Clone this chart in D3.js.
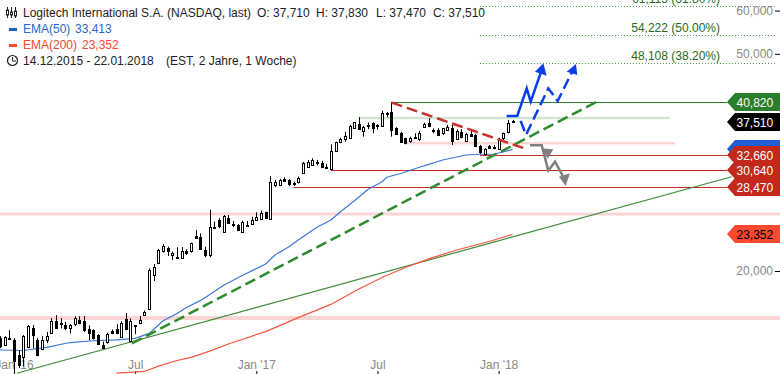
<!DOCTYPE html>
<html lang="en">
    <head>
        <meta charset="utf-8">
        <title>Logitech International S.A.</title>
        <script src="https://d3js.org/d3.v7.min.js"></script>
        <style type="text/css">
            body { margin: 0; background: #fff; }
            svg { display: block; overflow: hidden; }
            text { font-family: "Liberation Sans", Arial, sans-serif; font-size: 12px; }
            .axis path { display: none; }
            .axis line { stroke: #000; }
            .axis text { fill: #888; font-family: "Liberation Sans", Arial, sans-serif; font-size: 12px; }
        </style>
    </head>
    <body>
        <script type="text/javascript">

            //weekly candles, one entry per week starting 14.12.2015
            const opens = [15.05,14.63,15.07,14.98,14.02,13.92,14.52,15.74,14.94,14.38,14.94,15.41,16.21,16.03,15.92,15.70,15.98,16.26,16.21,15.63,15.58,15.26,14.65,14.80,15.52,15.65,15.17,16.31,14.90,15.85,16.03,16.64,17.03,19.66,20.69,21.79,22.04,21.34,21.25,21.16,21.76,21.70,23.15,23.06,21.85,21.40,24.01,24.80,23.61,25.01,24.39,24.25,23.61,24.31,24.42,24.80,24.87,25.62,24.98,28.79,28.71,29.53,29.36,29.03,29.12,30.21,31.02,31.24,31.68,31.51,31.06,30.76,33.09,34.37,34.95,35.10,36.52,37.20,36.00,36.90,37.30,37.04,36.78,38.91,39.08,36.62,35.85,35.01,34.51,35.16,35.01,36.78,37.40,36.26,36.26,35.70,36.37,36.52,34.91,36.00,34.62,35.66,35.51,33.89,32.73,33.89,33.75,33.43,34.95,35.85,37.71];
            const highs = [15.19,15.19,15.58,15.07,14.32,15.26,15.92,15.92,15.07,15.19,15.47,16.40,16.60,16.40,16.14,15.98,16.53,16.53,16.53,15.90,15.63,15.32,14.85,15.41,15.63,15.98,16.17,16.75,16.37,15.90,16.53,16.93,20.23,20.60,21.95,22.41,22.16,21.70,22.10,22.13,21.92,22.54,23.78,23.45,22.16,25.88,24.63,24.98,25.33,25.33,24.70,24.39,24.73,24.70,25.15,25.62,25.80,25.69,29.86,29.36,29.49,29.70,29.45,29.16,29.78,31.68,31.95,32.18,31.95,31.82,31.42,34.14,34.51,35.10,36.00,37.04,37.51,38.26,36.88,37.40,37.46,37.15,39.34,39.13,40.82,36.68,36.00,35.10,35.25,35.76,36.11,37.40,38.10,36.52,36.52,36.57,37.04,37.04,36.37,36.37,35.85,36.42,35.66,34.04,33.57,34.04,34.04,35.10,35.85,37.83,37.83];
            const lows = [14.44,14.57,15.02,13.00,13.27,13.38,14.44,14.42,13.96,14.32,14.75,15.37,15.70,15.70,15.58,15.37,15.85,15.98,15.47,14.94,14.98,14.63,14.38,14.73,15.32,15.32,15.12,15.58,14.81,15.32,15.98,16.55,16.96,19.18,20.60,21.61,21.31,20.95,21.16,21.16,21.40,21.61,22.96,21.85,21.19,21.19,23.88,23.95,23.61,24.39,24.05,23.78,23.61,24.18,24.39,24.73,24.83,24.98,24.91,28.47,28.67,29.28,28.60,28.60,28.95,30.12,30.98,31.20,31.24,30.89,30.93,30.63,33.05,34.29,34.51,35.10,36.47,36.26,35.25,36.37,35.76,36.31,36.78,38.26,35.25,35.66,34.43,34.14,34.37,34.91,34.62,36.68,36.68,35.76,35.36,35.51,36.26,34.04,34.76,35.01,34.51,35.25,33.80,32.77,32.63,33.47,33.43,33.33,34.51,35.76,37.47];
            const closes = [14.52,15.12,15.02,13.73,13.44,15.19,15.85,15.26,14.02,14.94,15.19,16.21,15.77,15.94,15.70,15.92,16.37,16.08,15.58,15.37,15.05,14.67,14.48,15.32,15.41,15.37,16.08,15.63,16.21,15.90,16.26,16.82,20.08,20.37,21.85,22.22,21.74,21.55,21.16,21.76,21.55,22.48,22.99,21.95,21.40,24.11,24.05,24.18,25.23,24.52,24.28,23.78,24.63,24.18,24.80,25.09,25.52,25.01,29.16,29.12,29.36,29.33,28.87,29.00,29.57,31.51,31.72,31.95,31.51,30.98,30.98,33.19,34.43,34.87,35.36,36.88,37.46,36.42,36.68,36.99,36.52,36.83,38.91,38.75,36.26,35.76,34.51,34.29,35.01,35.01,35.85,37.20,36.88,36.31,35.55,36.52,36.78,34.51,36.15,35.25,35.66,35.36,33.89,33.05,33.43,33.65,33.57,34.76,35.76,37.30,37.51];

            //moving averages: week index and value
            const ema50Weeks = [0,5,10,15,20,25,29,32,35,38,40,43,48,52,57,59,62,64,68,71,73,76,79,82,83,86,90,92,95,100,103,106,110];
            const ema50Values = [14.33,14.30,14.49,14.79,14.90,14.96,15.05,15.37,16.21,16.72,17.15,17.65,18.84,19.62,20.60,21.40,22.16,22.79,24.05,24.80,25.66,26.87,28.23,29.15,29.70,30.18,30.98,31.37,31.95,32.63,32.73,32.73,33.413];
            const ema200Weeks = [25,31,34,38,41,45,49,57,64,71,77,82,87,92,98,105,110];
            const ema200Values = [13.00,13.09,13.39,13.71,13.89,14.26,14.70,15.49,16.43,17.37,18.54,19.46,20.30,21.05,21.85,22.65,23.352];

            //x axis
            const tickWeeks = [3,29,55,81,107];
            const tickLabels = ["Jan '16","Jul","Jan '17","Jul","Jan '18"];

            //y axis, 30 and 40 sit behind the price tags
            const priceTicks = [20,50,60];

            //horizontal levels, first week of each line
            const resistance = 40.82;
            const resistanceWeek = 84;
            const supports = [32.66,30.64,28.47];
            const supportWeeks = [103,71,63];
            const fibValues = [61.115,54.222,48.108];
            const fibLabels = ["61,115 (61.80%)","54,222 (50.00%)","48,108 (38.20%)"];
            const zoneValues = [25.44,16.40];

            //drawn trend lines: [week, price]
            const greenDashed = [[28.3,14.73],[128,40.82]];
            const greenThin = [[3.6,12.99],[157,29.77]];
            const redDashed = [[84.05,40.70],[112.45,33.57]];

            //scenario arrows: [week, price]
            const blueSolid = [[108.73,38.47],[111,38.47],[113.03,43.23],[113.88,40.86],[116.24,46.70]];
            const blueSolidHead = [[114.8,46.37],[116.6,48.07],[117.3,45.60]];
            const blueDashed = [[111.74,37.67],[112.88,35.51],[117.66,43.23],[119.68,40.98],[122.96,46.70]];
            const blueDashedHead = [[121.6,46.37],[123.6,47.90],[123.88,45.73]];
            const grayPath = [[113.73,33.99],[116.24,33.99],[117.66,30.54],[119.1,31.72],[121.24,29.36]];
            const grayHeadA = [[116.24,33.57],[118.73,33.43],[117.53,32.13]];
            const grayHeadB = [[119.96,29.78],[122.3,30.20],[121.4,28.63]];

            //price tags on the right, the blue one is covered by its neighbour
            const tagValues = [40.82,37.51,33.413,32.66,30.64,28.47,23.352];
            const tagFills = ["#2a7d2a","#000000","#1f5fd0","#c4281c","#c4281c","#c4281c","#fb4a2f"];
            const tagText = ["#fff","#fff",null,"#fff","#fff","#fff","#000"];

            //consts
            const w = 780;
            const h = 374;
            const tagLeft = 727;
            const green = "#2a7d2a";
            const red = "#c8281e";
            const pink = "#fbd5d3";
            const fmt = v => d3.format(".3f")(v).replace(".", ",");

            //scales
            const xScale = d3.scaleLinear().domain([0, 110]).range([0, 512.6]);
            const yScale = d3.scaleLog().domain([20, 60]).range([271, 10.6]);
            const pointLine = d3.line().x(d => xScale(d[0])).y(d => yScale(d[1]));

            //SVG
            const svg = d3.select("body")
                    .append("svg")
                    .attr("width", w)
                    .attr("height", h);

            //pale zones behind the candles
            svg.selectAll("line.zone")
               .data(zoneValues)
               .enter()
               .append("line")
               .attr("class", "zone")
               .attr("x1", 0)
               .attr("x2", w)
               .attr("y1", d => yScale(d))
               .attr("y2", d => yScale(d))
               .attr("stroke", pink)
               .attr("stroke-width", (d, i) => i == 0 ? 3 : 4);

            //short pale zones
            svg.append("line")
               .attr("x1", xScale(77)).attr("x2", 670)
               .attr("y1", yScale(38.15)).attr("y2", yScale(38.15))
               .attr("stroke", "#d2e6d2").attr("stroke-width", 2.5);
            svg.append("line")
               .attr("x1", xScale(87)).attr("x2", 675)
               .attr("y1", yScale(34.28)).attr("y2", yScale(34.28))
               .attr("stroke", pink).attr("stroke-width", 2.5);

            //fibonacci levels
            svg.selectAll("line.fib")
               .data(fibValues)
               .enter()
               .append("line")
               .attr("class", "fib")
               .attr("x1", xScale(103))
               .attr("x2", 775)
               .attr("y1", d => Math.round(yScale(d)) + 0.5)
               .attr("y2", d => Math.round(yScale(d)) + 0.5)
               .attr("stroke", "#4a9a4a")
               .attr("stroke-dasharray", "1,2");

            svg.selectAll("text.fib")
               .data(fibLabels)
               .enter()
               .append("text")
               .attr("class", "fib")
               .attr("x", 720)
               .attr("y", (d, i) => yScale(fibValues[i]) - 3)
               .attr("text-anchor", "end")
               .attr("fill", "#1f6b1f")
               .text(d => d);

            //bottom axis, labels above the tick
            const bottomAxis = d3.axisTop()
                                 .scale(xScale)
                                 .tickValues(tickWeeks)
                                 .tickSize(3)
                                 .tickPadding(2)
                                 .tickFormat((d, i) => tickLabels[i]);

            svg.append("g")
               .attr("class", "axis")
               .attr("transform", "translate(0," + h + ")")
               .call(bottomAxis);

            //right axis, labels left of the tick
            const rightAxis = d3.axisLeft()
                                .scale(yScale)
                                .tickValues(priceTicks)
                                .tickSize(5)
                                .tickPadding(2)
                                .tickFormat(fmt);

            svg.append("g")
               .attr("class", "axis")
               .attr("transform", "translate(" + w + ",0)")
               .call(rightAxis);

            //level lines
            svg.append("line")
               .attr("x1", xScale(resistanceWeek)).attr("x2", tagLeft)
               .attr("y1", Math.round(yScale(resistance)) + 0.5).attr("y2", Math.round(yScale(resistance)) + 0.5)
               .attr("stroke", green).attr("stroke-width", 1.2);

            svg.selectAll("line.support")
               .data(supports)
               .enter()
               .append("line")
               .attr("class", "support")
               .attr("x1", (d, i) => xScale(supportWeeks[i]))
               .attr("x2", tagLeft)
               .attr("y1", d => Math.round(yScale(d)) + 0.5)
               .attr("y2", d => Math.round(yScale(d)) + 0.5)
               .attr("stroke", red)
               .attr("stroke-width", 1.2);

            //thin trend line
            svg.append("path")
               .attr("d", pointLine(greenThin))
               .attr("fill", "none").attr("stroke", "#3d8b3d").attr("stroke-width", 1.2);

            //moving averages
            svg.append("path")
               .attr("d", pointLine(ema50Weeks.map((d, i) => [d, ema50Values[i]])))
               .attr("fill", "none").attr("stroke", "#3b78d8").attr("stroke-width", 1.2);
            svg.append("path")
               .attr("d", pointLine(ema200Weeks.map((d, i) => [d, ema200Values[i]])))
               .attr("fill", "none").attr("stroke", "#f8563f").attr("stroke-width", 1.2);

            //candles
            const candles = svg.selectAll("g.candle")
                               .data(d3.range(opens.length))
                               .enter()
                               .append("g")
                               .attr("class", "candle");

            candles.append("line")
                   .attr("x1", i => Math.round(xScale(i)) + 0.5)
                   .attr("x2", i => Math.round(xScale(i)) + 0.5)
                   .attr("y1", i => yScale(highs[i]))
                   .attr("y2", i => yScale(lows[i]))
                   .attr("stroke", "#000");

            candles.append("rect")
                   .attr("x", i => Math.round(xScale(i)) - 0.5)
                   .attr("y", i => Math.round(yScale(Math.max(opens[i], closes[i]))) + 0.5)
                   .attr("width", 2)
                   .attr("height", i => Math.max(1, Math.round(yScale(Math.min(opens[i], closes[i])) - yScale(Math.max(opens[i], closes[i])))))
                   .attr("fill", i => closes[i] < opens[i] ? "#000" : "#fff")
                   .attr("stroke", "#000");

            //dashed trend lines
            svg.append("path")
               .attr("d", pointLine(greenDashed))
               .attr("fill", "none").attr("stroke", "#2e8b2e").attr("stroke-width", 2.5)
               .attr("stroke-dasharray", "11,5");
            svg.append("path")
               .attr("d", pointLine(redDashed))
               .attr("fill", "none").attr("stroke", "#c8322c").attr("stroke-width", 2.5)
               .attr("stroke-dasharray", "11,5");

            //scenario arrows
            const blue = "#0a3ee8";
            const gray = "#808080";
            svg.append("path").attr("d", pointLine(grayPath))
               .attr("fill", "none").attr("stroke", gray).attr("stroke-width", 2.5);
            svg.selectAll("path.grayhead")
               .data([grayHeadA, grayHeadB])
               .enter()
               .append("path")
               .attr("class", "grayhead")
               .attr("d", d => pointLine(d) + "Z")
               .attr("fill", gray);
            svg.append("path").attr("d", pointLine(blueSolid))
               .attr("fill", "none").attr("stroke", blue).attr("stroke-width", 2.5);
            svg.append("path").attr("d", pointLine(blueSolidHead) + "Z").attr("fill", blue);
            svg.append("path").attr("d", pointLine(blueDashed))
               .attr("fill", "none").attr("stroke", blue).attr("stroke-width", 2.5)
               .attr("stroke-dasharray", "11,5");
            svg.append("path").attr("d", pointLine(blueDashedHead) + "Z").attr("fill", blue);

            //price tags
            const tags = svg.selectAll("g.tag")
                            .data(tagValues)
                            .enter()
                            .append("g")
                            .attr("class", "tag")
                            .attr("transform", d => "translate(0," + Math.round(yScale(d)) + ")");

            tags.append("path")
                .attr("d", "M" + tagLeft + ",0L" + (tagLeft + 8) + ",-9H" + w + "V9H" + (tagLeft + 8) + "Z")
                .attr("fill", (d, i) => tagFills[i]);

            tags.filter((d, i) => tagText[i])
                .append("text")
                .attr("x", 736.5)
                .attr("y", 4.5)
                .attr("fill", d => tagText[tagValues.indexOf(d)])
                .text(d => fmt(d));

            //legend
            const legend = svg.append("g");
            const dark = "#222";

            legend.append("text").attr("x", 23).attr("y", 17).attr("fill", dark)
                  .text("Logitech International S.A. (NASDAQ, last)");
            legend.selectAll("text.ohlc")
                  .data(["O: 37,710","H: 37,830","L: 37,470","C: 37,510"])
                  .enter()
                  .append("text")
                  .attr("class", "ohlc")
                  .attr("x", (d, i) => [257,316,376,433][i])
                  .attr("y", 17)
                  .attr("fill", dark)
                  .text(d => d);

            legend.append("rect").attr("x", 9).attr("y", 28).attr("width", 8).attr("height", 3).attr("fill", "#1f5fd0");
            legend.append("text").attr("x", 23).attr("y", 33).attr("fill", "#2a65d0").text("EMA(50)");
            legend.append("text").attr("x", 75).attr("y", 33).attr("fill", "#2a65d0").text("33,413");
            legend.append("rect").attr("x", 9).attr("y", 44).attr("width", 8).attr("height", 3).attr("fill", "#fb4a2f");
            legend.append("text").attr("x", 23).attr("y", 49).attr("fill", "#f8452d").text("EMA(200)");
            legend.append("text").attr("x", 82).attr("y", 49).attr("fill", "#f8452d").text("23,352");

            legend.append("circle").attr("cx", 12.5).attr("cy", 60.5).attr("r", 5)
                  .attr("fill", "none").attr("stroke", dark).attr("stroke-width", 1.2);
            legend.append("path").attr("d", "M12.5,57V61H16")
                  .attr("fill", "none").attr("stroke", dark);
            legend.append("text").attr("x", 23).attr("y", 65).attr("fill", dark).text("14.12.2015 - 22.01.2018");
            legend.append("text").attr("x", 166).attr("y", 65).attr("fill", dark).text("(EST, 2 Jahre, 1 Woche)");

            //little candle icon
            legend.append("path")
                  .attr("d", "M7.5,7V18M11.5,7V18M15.5,7V18")
                  .attr("stroke", dark);
            legend.selectAll("rect.icon")
                  .data([[6.5,10,5],[10.5,12,3],[14.5,11,5]])
                  .enter()
                  .append("rect")
                  .attr("class", "icon")
                  .attr("x", d => d[0])
                  .attr("y", d => d[1])
                  .attr("width", 2)
                  .attr("height", d => d[2])
                  .attr("fill", "#fff")
                  .attr("stroke", dark);

        </script>
    </body>
</html>
